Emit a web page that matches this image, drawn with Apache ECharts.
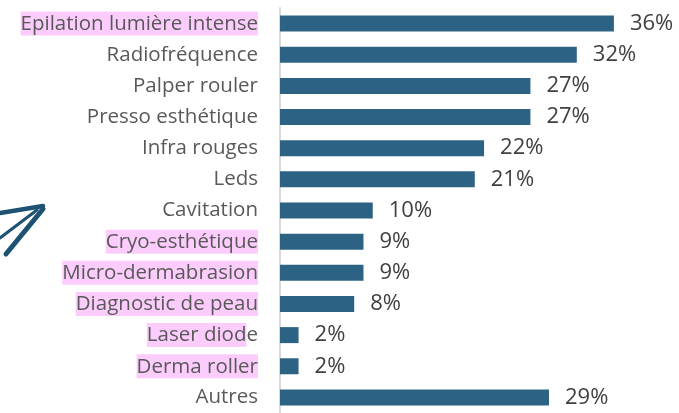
<!DOCTYPE html>
<html>
<head>
<meta charset="utf-8">
<script src="https://cdn.jsdelivr.net/npm/echarts@6/dist/echarts.min.js"></script>
<style>
  html, body { margin: 0; padding: 0; background: #fff; }
  #chart { width: 679px; height: 413px; }
</style>
</head>
<body>
<div id="chart"></div>
<script>
const categories = [
  'Epilation lumière intense',
  'Radiofréquence',
  'Palper rouler',
  'Presso esthétique',
  'Infra rouges',
  'Leds',
  'Cavitation',
  'Cryo-esthétique',
  'Micro-dermabrasion',
  'Diagnostic de peau',
  'Laser diode',
  'Derma roller',
  'Autres',
]
const values = [36, 32, 27, 27, 22, 21, 10, 9, 9, 8, 2, 2, 29]
// labels highlighted in pink (Laser diode only up to "diod")
const highlighted = {
  'Epilation lumière intense': 'Epilation lumière intense',
  'Cryo-esthétique': 'Cryo-esthétique',
  'Micro-dermabrasion': 'Micro-dermabrasion',
  'Diagnostic de peau': 'Diagnostic de peau',
  'Laser diode': 'Laser diod',
  'Derma roller': 'Derma roller',
}

const chart = echarts.init(document.getElementById('chart'))

chart.setOption({
  animation: false,
  textStyle: { fontFamily: 'Open Sans' },
  grid: {
    left: 280,
    right: 28,
    top: 8,
    bottom: -7,
    containLabel: false,
  },
  xAxis: {
    type: 'value',
    min: 0,
    max: 40,
    show: false,
  },
  yAxis: {
    type: 'category',
    data: categories,
    inverse: true,
    axisTick: { show: false },
    axisLine: {
      show: true,
      lineStyle: { color: '#d9d9d9', width: 2 },
    },
    axisLabel: {
      margin: 22,
      fontSize: 20.5,
      fontFamily: 'Open Sans',
      color: '#595959',
      formatter: (name) => {
        const hl = highlighted[name]
        if (!hl) return name
        const rest = name.slice(hl.length)
        return rest ? `{hl|${hl}}{n|${rest}}` : `{hl|${hl}}`
      },
      rich: {
        hl: {
          fontSize: 20.5,
          fontFamily: 'Open Sans',
          color: '#595959',
          backgroundColor: '#fccdfc',
          padding: [2, 0, 1, 0],
        },
        n: {
          fontSize: 20.5,
          fontFamily: 'Open Sans',
          color: '#595959',
        },
      },
    },
  },
  graphic: [
    {
      type: 'group',
      silent: true,
      children: [
        { type: 'line', shape: { x1: 0, y1: 213, x2: 43, y2: 206 }, style: { stroke: '#1d5273', lineWidth: 4.5, lineCap: 'round' } },
        { type: 'line', shape: { x1: 0, y1: 238, x2: 37, y2: 210 }, style: { stroke: '#1d5273', lineWidth: 3, lineCap: 'round' } },
        { type: 'line', shape: { x1: 6, y1: 254, x2: 43, y2: 209 }, style: { stroke: '#1d5273', lineWidth: 5, lineCap: 'round' } },
      ],
    },
  ],
  series: [
    {
      type: 'bar',
      data: values,
      barWidth: 16,
      itemStyle: {
        color: '#2c6384',
      },
      label: {
        show: true,
        position: 'right',
        distance: 16,
        fontSize: 22,
        fontFamily: 'Open Sans',
        color: '#404040',
        formatter: '{c}%',
      },
    },
  ],
})
</script>
</body>
</html>
